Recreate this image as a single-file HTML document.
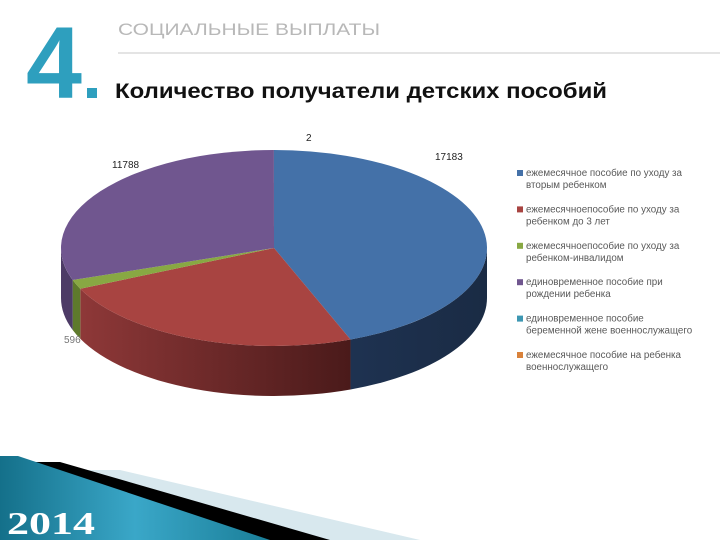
<!DOCTYPE html>
<html><head><meta charset="utf-8"><style>
html,body{margin:0;padding:0;background:#fff;}
#wrap{position:relative;width:720px;height:540px;overflow:hidden;font-family:"Liberation Sans","DejaVu Sans",sans-serif;}
</style></head><body>
<div id="wrap">
<svg id="svg" width="720" height="540" viewBox="0 0 720 540" xmlns="http://www.w3.org/2000/svg">
<defs>
<linearGradient id="gRedSide" x1="0" x2="1" y1="0" y2="0"><stop offset="0" stop-color="#8e3838"/><stop offset="1" stop-color="#4a1a1a"/></linearGradient>
<linearGradient id="gBlueSide" x1="0" x2="1" y1="0" y2="0"><stop offset="0" stop-color="#1e3251"/><stop offset="1" stop-color="#1a2b44"/></linearGradient>
<linearGradient id="gTeal" x1="0" x2="1" y1="0" y2="0"><stop offset="0" stop-color="#14708a"/><stop offset="0.5" stop-color="#3aa7c8"/><stop offset="1" stop-color="#1a7e98"/></linearGradient>
</defs>
<g>
<polygon points="0,470 120,470 420,540 0,540" fill="#d8e8ee"/>
<polygon points="0,462 60,462 330,540 0,540" fill="#000"/>
<polygon points="0,456 18,456 270,540 0,540" fill="url(#gTeal)"/>
</g>
<text x="7" y="534" font-family="Liberation Serif,serif" font-weight="bold" font-size="32" fill="#fff" textLength="88" lengthAdjust="spacingAndGlyphs">2014</text>
<text x="26" y="98" font-family="Liberation Sans,sans-serif" font-weight="bold" font-size="102" fill="#2e9fbe" textLength="56" lengthAdjust="spacingAndGlyphs">4</text>
<rect x="87" y="88" width="10" height="10" fill="#2e9fbe"/>
<text x="118" y="35" font-size="17" fill="#b8b8b8" textLength="262" lengthAdjust="spacingAndGlyphs">СОЦИАЛЬНЫЕ ВЫПЛАТЫ</text>
<line x1="118" y1="53" x2="720" y2="53" stroke="#c8c8c8" stroke-width="1"/>
<text x="115" y="98" font-size="21" font-weight="bold" fill="#111" textLength="492" lengthAdjust="spacingAndGlyphs">Количество получатели детских пособий</text>
<g id="pie"></g>
<g id="legend"></g>
</svg>
</div>
<script>
const categories = [
 ["ежемесячное пособие по уходу за","вторым ребенком"],
 ["ежемесячноепособие по уходу за","ребенком до 3 лет"],
 ["ежемесячноепособие по уходу за","ребенком-инвалидом"],
 ["единовременное пособие при","рождении ребенка"],
 ["единовременное пособие","беременной жене военнослужащего"],
 ["ежемесячное пособие на ребенка","военнослужащего"]
];
const values = [17183, 9350, 596, 11788, 2, 0];
const valueLabels = ["17183", "", "596", "11788", "2", ""];
const colors = ["#4471a8","#a84441","#88a843","#70568f","#3d97b2","#d9823b"];
const sideFills = ["url(#gBlueSide)","url(#gRedSide)","#5e7a2c","#4d3b66","#2a6a7e","#9a5a28"];
const labelPos = [[435,160],null,[64,343],[112,168],[306,141],null];

const NS="http://www.w3.org/2000/svg";
const cx=274, cy=248, rx=213, ry=98, depth=50;
const pie=document.getElementById('pie');
const total=values.reduce((a,b)=>a+b,0);
function pt(t,dy){return [cx+rx*Math.sin(t), cy-ry*Math.cos(t)+(dy||0)];}
const slices=[]; let acc=0;
values.forEach((v,i)=>{const a=acc/total*2*Math.PI; acc+=v; const b=acc/total*2*Math.PI; slices.push([a,b]);});
slices.forEach(([a,b],i)=>{
  const lo=Math.max(a,Math.PI/2), hi=Math.min(b,3*Math.PI/2);
  if(hi<=lo) return;
  const p0=pt(lo),p1=pt(hi),q1=pt(hi,depth),q0=pt(lo,depth);
  const p=document.createElementNS(NS,'path');
  p.setAttribute('d',`M${p0} A${rx} ${ry} 0 0 1 ${p1} L${q1} A${rx} ${ry} 0 0 0 ${q0} Z`);
  p.setAttribute('fill',sideFills[i]);
  
  
  pie.appendChild(p);
});
slices.forEach(([a,b],i)=>{
  if(b-a<=0) return;
  const p0=pt(a),p1=pt(b);
  const large=(b-a)>Math.PI?1:0;
  const p=document.createElementNS(NS,'path');
  p.setAttribute('d',`M${cx},${cy} L${p0} A${rx} ${ry} 0 ${large} 1 ${p1} Z`);
  p.setAttribute('fill',colors[i]);
  
  
  pie.appendChild(p);
});
valueLabels.forEach((s,i)=>{
  if(!s||!labelPos[i]) return;
  const t=document.createElementNS(NS,'text');
  t.setAttribute('x',labelPos[i][0]); t.setAttribute('y',labelPos[i][1]);
  t.setAttribute('font-size','10'); t.setAttribute('fill',i==2?'#777':'#222');
  t.textContent=s;
  
  
  pie.appendChild(t);
});
const lg=document.getElementById('legend');
categories.forEach((c,i)=>{
  const y=176+i*36.4;
  const r=document.createElementNS(NS,'rect');
  r.setAttribute('x',517); r.setAttribute('y',y-6); r.setAttribute('width',6); r.setAttribute('height',6);
  r.setAttribute('fill',colors[i]);
  
  
  lg.appendChild(r);
  c.forEach((line,k)=>{
    const t=document.createElementNS(NS,'text');
    t.setAttribute('x',526); t.setAttribute('y',y+k*12);
    t.setAttribute('font-size','9.8'); t.setAttribute('fill','#595959');
    t.textContent=line;
    
    
    lg.appendChild(t);
  });
});
</script>
</body></html>
